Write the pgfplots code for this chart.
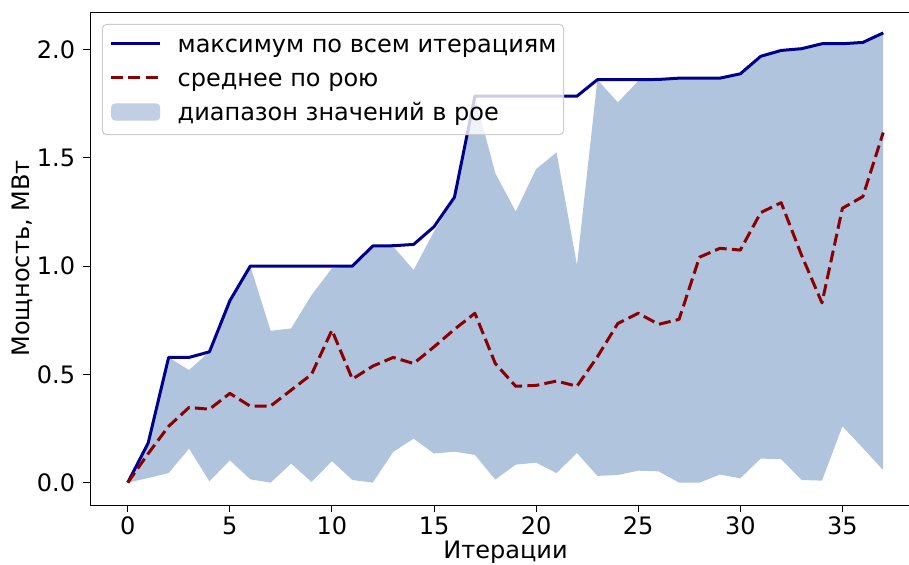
\documentclass[border=0pt]{standalone}
\usepackage{fontspec}
\setmainfont{DejaVu Sans}
\usepackage{pgfplots}
\pgfplotsset{compat=1.18}
\usepgfplotslibrary{fillbetween}
\usepackage{pgfplotstable}

\definecolor{bandc}{HTML}{B0C4DE}
\definecolor{maxc}{HTML}{00008B}
\definecolor{meanc}{HTML}{8B0000}

\pgfplotstableread{
i mx up lo mean
0 0.000 0.000 0.000 0.000
1 0.183 0.180 0.021 0.134
2 0.578 0.578 0.044 0.260
3 0.578 0.520 0.157 0.347
4 0.604 0.604 0.006 0.339
5 0.840 0.840 0.103 0.412
6 1.000 1.000 0.015 0.353
7 1.000 0.701 0.000 0.354
8 1.000 0.712 0.088 0.427
9 1.000 0.866 0.003 0.500
10 1.000 0.990 0.099 0.704
11 1.000 1.000 0.012 0.478
12 1.093 1.093 0.000 0.538
13 1.094 1.090 0.142 0.578
14 1.100 0.982 0.203 0.550
15 1.182 1.160 0.134 0.627
16 1.318 1.310 0.143 0.708
17 1.785 1.785 0.128 0.782
18 1.785 1.429 0.014 0.550
19 1.785 1.252 0.083 0.445
20 1.785 1.448 0.092 0.449
21 1.785 1.525 0.044 0.469
22 1.785 1.005 0.137 0.445
23 1.861 1.861 0.031 0.581
24 1.861 1.756 0.035 0.735
25 1.861 1.855 0.055 0.782
26 1.862 1.855 0.052 0.731
27 1.868 1.868 0.000 0.754
28 1.868 1.868 0.000 1.041
29 1.868 1.866 0.037 1.082
30 1.888 1.888 0.020 1.074
31 1.969 1.969 0.111 1.247
32 1.996 1.996 0.108 1.293
33 2.004 2.004 0.012 1.050
34 2.027 2.027 0.009 0.830
35 2.027 2.027 0.260 1.267
36 2.033 2.033 0.160 1.321
37 2.077 2.077 0.057 1.617
}\data

\begin{document}
\fontsize{12}{14.4}\selectfont
\begin{tikzpicture}
\begin{axis}[
  at={(0,0)}, anchor=south west,
  scale only axis, width=415.5pt, height=246.5pt,
  xmin=-1.85, xmax=38.85, ymin=-0.1035, ymax=2.1735,
  xtick={0,5,...,35}, ytick={0,0.5,1.0,1.5,2.0},
  xtick pos=bottom, ytick pos=left,
  tick align=outside, major tick length=3.25pt,
  tick style={black, line width=0.5pt},
  axis line style={line width=0.5pt, black},
  /pgf/number format/assume math mode=true,
  yticklabel style={/pgf/number format/.cd, fixed, fixed zerofill, precision=1},
  xticklabel style={inner sep=1pt, yshift=-1.5pt, /pgf/number format/.cd, fixed},
  xlabel={Итерации}, ylabel={Мощность, МВт},
  xlabel style={at={(axis description cs:0.5,0)}, anchor=base, inner sep=0pt, yshift=-26.8pt},
  ylabel style={at={(axis description cs:-0.0722,0.5)}, anchor=base},
  legend style={at={(0.0144,0.9757)}, anchor=north west,
    draw=black!20, rounded corners=2pt, fill=white, fill opacity=0.8,
    text opacity=1, draw opacity=1, line width=0.5pt,
    inner xsep=3.6pt, inner ysep=4pt, row sep=4.25pt, column sep=8pt,
    cells={anchor=base west},
    nodes={inner sep=0pt, text height=9.85pt, text depth=3pt},
    font=\fontsize{12}{14.4}\selectfont},
  legend image code/.code={\draw[#1] (0pt,4.35pt) -- (24.5pt,4.35pt);},
]
\addplot[draw=none, name path=up, forget plot] table[x=i, y=up] {\data};
\addplot[draw=none, name path=lo, forget plot] table[x=i, y=lo] {\data};
\addplot[bandc, draw=none, forget plot] fill between[of=up and lo];
\addplot[maxc, line width=1.5pt, line join=round] table[x=i, y=mx] {\data};
\addlegendentry{максимум по всем итерациям}
\addplot[meanc, line width=1.5pt, dash pattern=on 6pt off 2.6pt, line join=round] table[x=i, y=mean] {\data};
\addlegendentry{среднее по рою}
\addlegendimage{draw=none, fill=bandc, legend image code/.code={\fill[bandc] (0pt,0pt) rectangle (24.5pt,8.65pt);}}
\addlegendentry{диапазон значений в рое}
\end{axis}
\pgfresetboundingbox
\path[use as bounding box] (-45pt,-29.5pt) rectangle (409.5pt,252.5pt);
\end{tikzpicture}
\end{document}
